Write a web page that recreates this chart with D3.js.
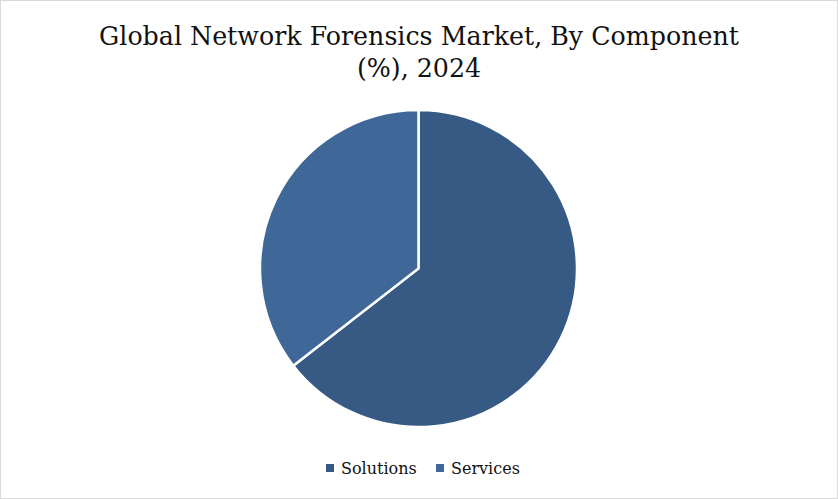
<!DOCTYPE html>
<html><head><meta charset="utf-8">
<script src="https://cdn.jsdelivr.net/npm/d3@7"></script>
<style>html,body{margin:0;padding:0;background:#fff;}svg{display:block;}</style>
</head><body>
<script>
const categories = ["Solutions", "Services"];
const shares = [64.5, 35.5];
const colors = ["#375a85", "#3f6898"];
const titleLines = ["Global Network Forensics Market, By Component", "(%), 2024"];

const W = 838, H = 499;
const svg = d3.select("body").append("svg").attr("width", W).attr("height", H);
svg.append("rect").attr("x", 0.5).attr("y", 0.5).attr("width", W - 1).attr("height", H - 1)
  .attr("fill", "#fff").attr("stroke", "#d9d9d9");

const font = "'DejaVu Serif', 'Liberation Serif', serif";
const t1 = svg.append("text").attr("x", 419).attr("y", 45).attr("text-anchor", "middle")
  .attr("font-family", font).attr("font-size", 24).attr("fill", "#111").text(titleLines[0]);
const w1 = t1.node().getComputedTextLength();
const fs = 24 * 640 / w1;
t1.attr("font-size", fs);
svg.append("text").attr("x", 419).attr("y", 77).attr("text-anchor", "middle")
  .attr("font-family", font).attr("font-size", fs).attr("fill", "#111").text(titleLines[1]);

const cx = 418.5, cy = 268.5, r = 158.5;
const pie = d3.pie().sort(null).value(d => d)(shares);
const arc = d3.arc().innerRadius(0).outerRadius(r);
svg.append("g").attr("transform", `translate(${cx},${cy})`)
  .selectAll("path").data(pie).join("path")
  .attr("d", arc).attr("fill", (d, i) => colors[i])
  .attr("stroke", "#fff").attr("stroke-width", 2.5).attr("stroke-linejoin", "miter");

const leg = svg.append("g");
const xs = [326, 436];
categories.forEach((c, i) => {
  leg.append("rect").attr("x", xs[i]).attr("y", 464).attr("width", 8).attr("height", 8).attr("fill", colors[i]);
  const t = leg.append("text").attr("x", xs[i] + 15).attr("y", 474)
    .attr("font-family", font).attr("font-size", 16).attr("fill", "#111").text(c);
});
</script>
</body></html>
